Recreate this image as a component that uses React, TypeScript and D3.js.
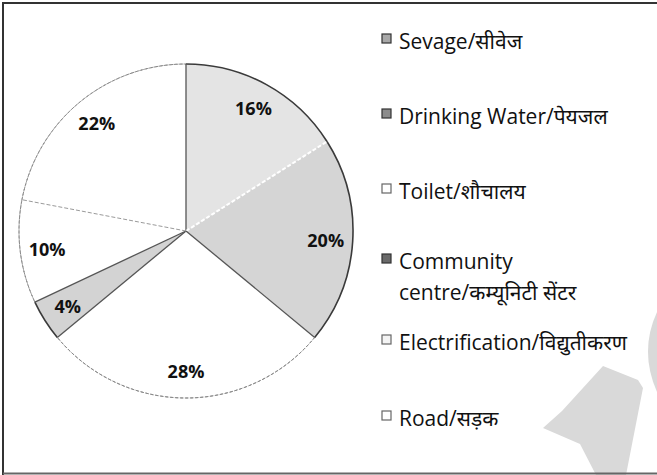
import React from "react";
import * as d3 from "d3";

// slices, clockwise from 12 o'clock
const categories = [
  "Sevage/सीवेज",
  "Drinking Water/पेयजल",
  "Toilet/शौचालय",
  "Community centre/कम्यूनिटी सेंटर",
  "Electrification/विद्युतीकरण",
  "Road/सड़क",
];
const shares = [16, 20, 28, 4, 10, 22];
const sliceFills = ["#e4e4e4", "#d5d5d5", "#ffffff", "#d3d3d3", "#ffffff", "#ffffff"];
const markerFills = ["#a8a8a8", "#8c8c8c", "#ffffff", "#6a6a6a", "#f4f4f4", "#ffffff"];
// legend lines (Community centre wraps)
const legendLines = [
  ["Sevage/सीवेज"],
  ["Drinking Water/पेयजल"],
  ["Toilet/शौचालय"],
  ["Community", "centre/कम्यूनिटी सेंटर"],
  ["Electrification/विद्युतीकरण"],
  ["Road/सड़क"],
];

const W = 657;
const H = 475;
const cx = 186;
const cy = 231;
const R = 167;
const legendBase = [49, 124, 199, 269, 350, 426];

const FONT = '"Open Sans", "Noto Sans Devanagari", "Lohit Devanagari", "Noto Sans", sans-serif';

export default function App() {
  const data = categories.map((c, i) => ({ name: c, value: shares[i], i }));
  const pie = d3.pie<any>().sort(null).value((d) => d.value);
  const arcs = pie(data);
  const arc = d3.arc<any>().innerRadius(0).outerRadius(R);
  const outer = d3.arc<any>().innerRadius(R).outerRadius(R);
  const labelArc = d3.arc<any>().innerRadius(140).outerRadius(140);

  const isGray = (i: number) => sliceFills[i] !== "#ffffff";

  // radial edge end point for an angle
  const edge = (a: number) => [Math.sin(a) * R, -Math.cos(a) * R];

  return (
    <svg
      width={W}
      height={H}
      style={{ position: "absolute", left: 0, top: 0, background: "#fff" }}
    >
      <rect x={0} y={0} width={W} height={H} fill="#fff" />
      <g transform={`translate(${cx},${cy})`}>
        {arcs.map((a, k) => (
          <path key={"s" + k} d={arc(a) as string} fill={sliceFills[k]} stroke="none" />
        ))}
        {/* outer rims */}
        {arcs.map((a, k) => (
          <path
            key={"o" + k}
            d={outer(a) as string}
            fill="none"
            stroke={isGray(k) ? "#3a3a3a" : "#8a8a8a"}
            strokeWidth={isGray(k) ? 1.6 : 1}
            strokeDasharray={isGray(k) ? undefined : "3 2"}
          />
        ))}
        {/* radial edges */}
        {arcs.map((a, k) => {
          const prev = (k + arcs.length - 1) % arcs.length;
          const both = isGray(k) && isGray(prev);
          const one = isGray(k) || isGray(prev);
          const [x, y] = edge(a.startAngle);
          return (
            <line
              key={"e" + k}
              x1={0}
              y1={0}
              x2={x}
              y2={y}
              stroke={both ? "#ffffff" : one ? "#555" : "#9a9a9a"}
              strokeWidth={both ? 2 : one ? 1.3 : 1}
              strokeDasharray={one && !both ? undefined : "4 2"}
            />
          );
        })}
        {arcs.map((a, k) => {
          const [x, y] = labelArc.centroid(a);
          return (
            <text
              key={"l" + k}
              x={x}
              y={y}
              textAnchor="middle"
              dominantBaseline="central"
              fontFamily={FONT}
              fontWeight="bold"
              fontSize={18}
              fill="#111"
            >
              {shares[k]}%
            </text>
          );
        })}
      </g>

      {/* legend */}
      {legendLines.map((lines, i) => (
        <g key={"lg" + i}>
          <rect
            x={382}
            y={legendBase[i] - 15}
            width={9}
            height={9}
            fill={markerFills[i]}
            stroke={isGray(i) ? "#333" : "#666"}
            strokeWidth={1.2}
          />
          {lines.map((t, j) => (
            <text
              key={j}
              x={399}
              y={legendBase[i] + j * 31}
              fontFamily={FONT}
              fontSize={21}
              fill="#111"
            >
              {t}
            </text>
          ))}
        </g>
      ))}

      {/* watermark fragments */}
      <path d="M657,312 Q639,351 657,392 Z" fill="#d9d9d9" />
      <path
        d="M603,366 L638,380 L643,388 L626,475 L596,475 L580,444 L543,428 L562,411 Z"
        fill="#d9d9d9"
      />

      {/* frame */}
      <path d="M3,475 L3,3 L657,3" fill="none" stroke="#333" strokeWidth={2} />
      <line x1={3} y1={473.5} x2={657} y2={473.5} stroke="#666" strokeWidth={2} />
    </svg>
  );
}
